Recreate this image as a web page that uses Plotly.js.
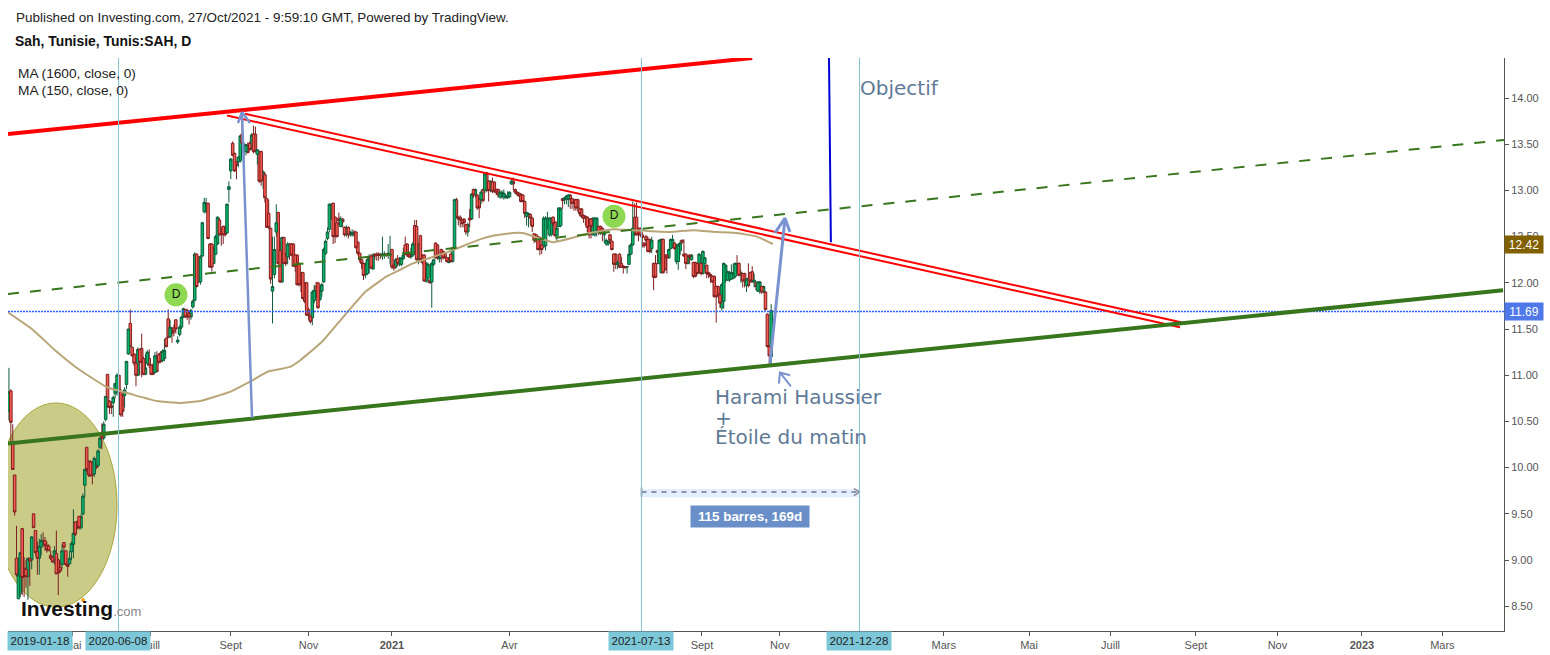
<!DOCTYPE html>
<html><head><meta charset="utf-8">
<script src="https://cdn.plot.ly/plotly-3.0.1.min.js"></script>
<style>html,body{margin:0;padding:0;background:#fff}#c{width:1550px;height:655px}</style>
</head><body><div id="c"></div>
<script>
// Daily candles: [open, high, low, close]
const candles2019to2020 = [
[10.61,11.08,10.51,10.82],[10.83,10.85,10.26,10.49],[10.26,10.47,9.98,9.98],[9.92,9.92,9.48,9.52],[9.02,9.37,8.82,8.84],[8.58,9.03,8.58,8.84],[8.64,9.08,8.6,9.08],[9.34,9.34,8.62,8.81],[8.91,9.03,8.6,8.82],[8.9,9.0,8.7,8.82],
[8.82,9.02,8.57,9.02],[9.02,9.02,8.72,8.99],[9.0,9.26,8.9,9.25],[9.5,9.5,9.35,9.35],[9.32,9.32,9.05,9.08],[9.09,9.2,8.84,9.02],[9.02,9.23,8.84,9.15],[9.14,9.28,9.05,9.21],[9.21,9.3,9.14,9.17],[9.21,9.25,9.1,9.16],
[9.16,9.2,9.08,9.11],[9.15,9.17,9.1,9.1],[9.05,9.1,9.0,9.02],[9.03,9.04,8.97,8.98],[8.98,9.15,8.95,9.1],[9.07,9.32,8.85,8.85],[9.0,9.02,8.62,8.86],[8.92,8.98,8.86,8.88],[8.95,9.17,8.9,9.1],[9.19,9.19,9.1,9.14],
[9.1,9.1,8.94,8.95],[8.95,8.96,8.82,8.93],[8.96,9.1,8.95,9.02],[9.09,9.2,9.0,9.18],[9.17,9.55,9.02,9.29],[9.41,9.42,9.26,9.28],[9.41,9.43,9.33,9.35],[9.47,9.48,9.33,9.35],[9.35,9.5,9.33,9.47],[9.5,9.72,9.48,9.69],
[9.81,9.98,9.68,9.98],[10.22,10.22,9.95,9.98],[10.07,10.08,9.9,9.92],[10.06,10.08,9.9,9.91],[10.06,10.07,9.82,9.92],[9.93,10.12,9.9,10.1],[10.03,10.05,9.98,10.0],[10.02,10.2,10.0,10.18],[10.22,10.33,10.2,10.32],[10.36,10.48,10.2,10.32],
[10.32,10.5,10.3,10.47],[10.52,10.77,10.5,10.77],[11.01,11.01,10.65,10.66],[10.72,10.73,10.58,10.65],[10.67,10.72,10.58,10.65],[10.7,10.78,10.55,10.76],[10.8,10.92,10.75,10.91],[10.82,11.02,10.78,11.0],[11.0,11.0,10.78,10.82],[10.82,10.85,10.55,10.57],
[10.78,10.8,10.55,10.61],[10.78,10.87,10.65,10.84],[10.9,11.15,10.85,11.15],[11.23,11.5,11.22,11.5],[11.56,11.71,11.31,11.31],[11.3,11.31,11.2,11.21],[11.23,11.24,11.1,11.13],[11.13,11.14,10.88,11.0],[11.0,11.3,10.99,11.28],[11.28,11.29,11.0,11.14],
[11.29,11.45,10.98,11.14],[11.18,11.2,11.0,11.01],[11.01,11.23,11.0,11.08],[11.13,11.27,11.1,11.25],[11.18,11.28,11.08,11.11],[11.11,11.12,11.0,11.01],[11.11,11.13,11.0,11.01],[11.03,11.25,11.02,11.21],[11.21,11.26,11.03,11.04],[11.22,11.24,11.12,11.14],
[11.24,11.26,11.13,11.15],[11.16,11.28,11.14,11.26],[11.18,11.39,11.15,11.27],[11.4,11.41,11.3,11.31],[11.61,11.71,11.4,11.41],[11.42,11.6,11.4,11.52],[11.51,11.52,11.35,11.45],[11.51,11.55,11.42,11.47],[11.6,11.6,11.45,11.5],[11.36,11.42,11.34,11.38],
[11.44,11.54,11.42,11.52],[11.52,11.64,11.5,11.63],[11.63,11.73,11.62,11.72],[11.71,11.72,11.62,11.63],[11.7,11.72,11.6,11.63],[11.67,11.7,11.55,11.63],[11.63,11.72,11.6,11.7],[11.74,11.82,11.72,11.8],[11.81,12.33,11.8,12.31],[12.31,12.32,11.95,11.96]
];
const candles2020 = [
[12.28,12.29,12.0,12.01],[12.01,12.3,11.98,12.28],[12.29,12.66,12.28,12.65],[12.77,12.92,12.75,12.87],[12.77,12.92,12.75,12.86],[12.86,12.87,12.47,12.48],[12.42,12.43,12.16,12.17],[12.42,12.43,12.12,12.17],[12.21,12.4,12.2,12.37],[12.31,12.52,12.3,12.5],
[12.42,12.72,12.41,12.71],[12.68,12.7,12.51,12.52],[12.56,12.6,12.4,12.52],[12.61,12.62,12.42,12.52],[12.6,12.62,12.5,12.52],[12.54,12.86,12.53,12.85],[13.01,13.1,12.87,13.04],[13.21,13.35,13.12,13.34],[13.51,13.53,13.37,13.38],[13.4,13.41,13.2,13.21],
[13.31,13.32,13.12,13.27],[13.31,13.37,13.25,13.36],[13.32,13.6,13.3,13.59],[13.61,13.84,13.5,13.51],[13.44,13.52,13.3,13.5],[13.42,13.5,13.38,13.49],[13.5,13.52,13.4,13.41],[13.51,13.53,13.43,13.44],[13.46,13.62,13.44,13.6],[13.61,13.7,13.4,13.42],
[13.61,13.69,13.41,13.42],[13.39,13.44,13.28,13.44],[13.42,13.43,13.08,13.1],[13.42,13.43,13.05,13.1],[13.12,13.22,13.02,13.2],[13.17,13.2,12.87,12.92],[12.91,12.92,12.6,12.6],[12.75,12.9,12.58,12.6],[12.59,12.6,11.99,12.04],[11.91,12.5,11.56,11.96],
[12.09,12.5,12.05,12.36],[12.55,12.85,12.5,12.65],[12.76,12.77,12.2,12.21],[12.35,12.45,12.0,12.01],[12.01,12.5,12.0,12.49],[12.49,12.5,12.2,12.21],[12.31,12.33,12.18,12.21],[12.28,12.44,12.2,12.42],[12.42,12.43,12.25,12.3],[12.42,12.43,12.29,12.3],
[12.42,12.43,12.17,12.18],[12.3,12.31,12.12,12.18],[12.3,12.31,11.97,11.98],[12.21,12.22,11.96,11.98],[12.11,12.12,11.9,11.98],[12.11,12.12,11.82,11.83],[12.0,12.01,11.78,11.8],[12.0,12.01,11.64,11.65],[11.71,11.73,11.6,11.65],[11.64,11.65,11.56,11.58],
[11.62,11.92,11.54,11.9],[11.81,11.98,11.78,11.92],[11.96,12.01,11.84,11.85],[12.0,12.01,11.72,11.73],[11.82,11.96,11.8,11.92],[11.91,12.0,11.85,11.98],[12.01,12.38,12.0,12.36],[12.32,12.47,12.3,12.45],[12.48,12.6,12.46,12.55],[12.58,12.86,12.55,12.85],
[12.7,12.86,12.68,12.85],[12.86,12.87,12.42,12.5],[12.71,12.72,12.43,12.5],[12.65,12.66,12.49,12.5],[12.7,12.76,12.62,12.67],[12.61,12.72,12.6,12.69],[12.69,12.7,12.6,12.66],[12.6,12.61,12.5,12.52],[12.52,12.62,12.5,12.6],[12.6,12.61,12.48,12.52],
[12.52,12.56,12.5,12.55],[12.52,12.58,12.5,12.54],[12.55,12.57,12.5,12.52],[12.55,12.56,12.37,12.38],[12.44,12.45,12.3,12.32],[12.32,12.33,12.22,12.25],[12.25,12.26,12.15,12.21],[12.21,12.22,12.03,12.08],[12.09,12.22,12.05,12.21],[12.1,12.27,12.08,12.25],
[12.16,12.31,12.1,12.28],[12.29,12.31,12.15,12.16],[12.15,12.32,12.14,12.3],[12.31,12.32,12.25,12.29],[12.31,12.33,12.24,12.3],[12.31,12.33,12.24,12.3],[12.31,12.32,12.26,12.3],[12.3,12.5,12.25,12.31],[12.3,12.34,12.26,12.31],[12.31,12.32,12.28,12.3]
];
const candles2021H1 = [
[12.3,12.42,12.26,12.32],[12.3,12.51,12.2,12.31],[12.36,12.37,12.15,12.17],[12.19,12.2,12.13,12.16],[12.17,12.27,12.15,12.25],[12.26,12.3,12.18,12.21],[12.2,12.28,12.18,12.26],[12.2,12.28,12.18,12.27],[12.26,12.38,12.25,12.3],[12.41,12.5,12.3,12.31],
[12.42,12.43,12.28,12.3],[12.31,12.33,12.27,12.28],[12.28,12.38,12.26,12.31],[12.3,12.44,12.28,12.42],[12.62,12.68,12.3,12.32],[12.61,12.68,12.24,12.25],[12.25,12.43,12.2,12.42],[12.51,12.52,12.22,12.25],[12.3,12.31,12.2,12.22],[12.3,12.31,12.01,12.02],
[12.02,12.23,12.0,12.21],[12.05,12.22,12.0,12.2],[12.03,12.04,11.99,12.0],[12.01,12.23,11.73,12.21],[12.2,12.26,12.18,12.25],[12.43,12.44,12.26,12.27],[12.41,12.42,12.25,12.27],[12.26,12.3,12.22,12.28],[12.36,12.37,12.22,12.3],[12.34,12.35,12.25,12.27],
[12.32,12.33,12.26,12.27],[12.27,12.28,12.22,12.23],[12.22,12.28,12.21,12.27],[12.31,12.32,12.22,12.23],[12.23,12.39,12.22,12.38],[12.38,12.91,12.37,12.9],[12.9,12.92,12.7,12.71],[12.71,12.72,12.62,12.69],[12.71,12.73,12.6,12.68],[12.68,12.69,12.6,12.64],
[12.69,12.7,12.6,12.65],[12.63,12.64,12.52,12.55],[12.55,12.65,12.5,12.63],[12.7,12.8,12.6,12.68],[12.69,12.97,12.68,12.96],[13.01,13.02,12.92,12.95],[12.95,13.02,12.92,13.01],[12.95,12.96,12.79,12.81],[12.91,12.92,12.7,12.81],[12.9,13.0,12.85,12.98],
[13.01,13.02,12.87,12.89],[13.0,13.2,12.97,13.18],[13.19,13.2,12.98,13.0],[13.1,13.11,12.88,13.0],[13.0,13.11,12.98,13.1],[13.09,13.14,12.97,12.99],[13.09,13.1,12.97,12.99],[13.01,13.02,12.95,12.98],[13.01,13.02,12.92,12.95],[12.93,13.0,12.91,12.98],
[12.93,13.0,12.91,12.98],[12.93,13.01,12.9,12.97],[12.92,12.96,12.91,12.94],[12.92,12.99,12.91,12.94],[12.93,12.99,12.92,12.98],[13.07,13.13,13.06,13.1],[13.1,13.14,13.0,13.07],[13.01,13.02,12.96,12.98],[12.98,12.99,12.94,12.96],[12.97,12.98,12.93,12.94],
[12.96,12.97,12.87,12.88],[12.95,12.96,12.87,12.88],[12.88,12.89,12.7,12.75],[12.72,12.77,12.62,12.76],[12.72,12.76,12.6,12.75],[12.74,12.75,12.62,12.7],[12.7,12.71,12.55,12.61],[12.53,12.54,12.43,12.46],[12.52,12.53,12.44,12.45],[12.5,12.51,12.35,12.36],
[12.49,12.5,12.3,12.36],[12.41,12.42,12.31,12.36],[12.39,12.72,12.38,12.7],[12.4,12.72,12.35,12.7],[12.61,12.77,12.58,12.7],[12.52,12.71,12.5,12.7],[12.52,12.71,12.5,12.7],[12.71,12.72,12.62,12.64],[12.66,12.67,12.5,12.51],[12.51,12.62,12.45,12.59],
[12.61,12.82,12.6,12.81],[12.62,12.82,12.6,12.8],[12.91,12.92,12.8,12.89],[12.9,12.93,12.85,12.92],[12.9,12.95,12.85,12.94],[12.91,12.96,12.82,12.95],[12.95,12.96,12.8,12.9],[12.91,12.92,12.8,12.86],[12.9,12.91,12.78,12.86],[12.9,12.91,12.78,12.81],
[12.9,12.91,12.77,12.81]
];
const candles2021H2 = [
[12.8,12.81,12.72,12.75],[12.8,12.81,12.7,12.72],[12.73,12.74,12.65,12.7],[12.72,12.73,12.62,12.7],[12.71,12.72,12.55,12.6],[12.69,12.7,12.48,12.52],[12.69,12.7,12.48,12.61],[12.52,12.71,12.51,12.7],[12.52,12.71,12.5,12.7],[12.55,12.71,12.5,12.7],
[12.61,12.62,12.52,12.55],[12.61,12.62,12.52,12.55],[12.59,12.6,12.45,12.55],[12.52,12.56,12.43,12.55],[12.42,12.48,12.4,12.46],[12.42,12.46,12.4,12.45],[12.52,12.53,12.42,12.46],[12.45,12.46,12.35,12.36],[12.31,12.32,12.12,12.2],[12.31,12.32,12.15,12.2],
[12.2,12.24,12.15,12.22],[12.31,12.32,12.16,12.17],[12.21,12.28,12.16,12.17],[12.18,12.19,12.1,12.17],[12.17,12.18,12.15,12.17],[12.17,12.18,12.1,12.175],[12.2,12.41,12.19,12.31],[12.31,12.43,12.3,12.41],[12.41,12.88,12.4,12.59],[12.71,12.86,12.51,12.52],
[12.71,12.87,12.51,12.52],[12.59,12.6,12.45,12.52],[12.59,12.6,12.5,12.52],[12.52,12.55,12.38,12.49],[12.43,12.44,12.38,12.4],[12.5,12.52,12.4,12.46],[12.47,12.5,12.33,12.34],[12.47,12.48,12.32,12.34],[12.37,12.5,12.32,12.46],[12.21,12.22,11.92,12.06],
[12.21,12.3,12.05,12.06],[12.35,12.36,12.2,12.33],[12.21,12.47,12.2,12.46],[12.11,12.48,12.1,12.47],[12.47,12.48,12.1,12.11],[12.3,12.31,12.13,12.14],[12.3,12.31,12.1,12.27],[12.27,12.37,12.26,12.36],[12.37,12.48,12.36,12.47],[12.39,12.52,12.38,12.47],
[12.43,12.44,12.36,12.37],[12.23,12.42,12.2,12.41],[12.23,12.43,12.14,12.41],[12.35,12.46,12.3,12.43],[12.46,12.47,12.42,12.44],[12.31,12.47,12.28,12.29],[12.31,12.32,12.15,12.21],[12.21,12.3,12.2,12.29],[12.3,12.31,12.2,12.28],[12.25,12.31,12.24,12.3],
[12.22,12.23,12.05,12.07],[12.22,12.23,12.06,12.07],[12.21,12.22,12.09,12.1],[12.12,12.32,12.1,12.31],[12.21,12.22,12.08,12.1],[12.1,12.35,12.09,12.34],[12.21,12.28,12.15,12.27],[12.19,12.2,12.05,12.1],[12.11,12.12,12.05,12.09],[12.09,12.1,12.0,12.07],
[12.07,12.08,12.0,12.01],[12.07,12.08,11.84,11.85],[11.96,11.97,11.57,11.85],[11.96,11.97,11.84,11.87],[11.87,11.88,11.73,11.78],[11.73,12.0,11.7,11.98],[11.8,12.22,11.72,12.21],[12.03,12.2,12.0,12.19],[12.03,12.13,12.02,12.12],[12.03,12.13,12.01,12.11],
[12.04,12.2,12.03,12.11],[12.05,12.21,12.04,12.11],[12.07,12.22,12.05,12.21],[12.21,12.3,12.1,12.19],[12.21,12.22,12.07,12.08],[12.09,12.14,12.0,12.11],[12.1,12.11,11.95,12.02],[12.1,12.11,11.95,12.02],[11.97,12.05,11.9,12.04],[12.05,12.21,11.95,11.97],
[12.11,12.12,12.0,12.02],[12.12,12.18,12.0,12.01],[12.01,12.1,11.95,12.03],[12.0,12.01,11.92,11.96],[11.91,12.02,11.9,12.01],[11.91,12.02,11.88,12.01],[11.96,11.97,11.88,11.9],[11.9,11.97,11.89,11.96],[11.9,11.91,11.7,11.71],[11.66,11.67,11.3,11.31],
[11.31,11.32,11.1,11.21],[11.2,11.77,11.1,11.7]
];
// MA (150): bar number and value
const maBars   = [-0.5,12.7,24.3,36.4,51.7,65.4,78.1,90.2,100.7,116.6,127.1,136.6,148.2,153.5,158.8,165,187.8,199.2,206.2,213,231,248.4,255.3,265.8,271,280,286.9,295.9,306.4,318.6,329,348.6,360.8,373.4,384,394.5,402.9];
const maValues = [11.68,11.49,11.27,11.07,10.87,10.79,10.72,10.70,10.72,10.82,10.93,11.04,11.09,11.16,11.25,11.36,11.90,12.07,12.14,12.21,12.33,12.47,12.51,12.54,12.54,12.48,12.44,12.48,12.54,12.58,12.57,12.55,12.57,12.55,12.54,12.50,12.42];
// Drawn trend lines: [bar, price] end points
const thickRedBars = [-0.5,392],  thickRedPrices = [13.61,14.433];
const redUpperBars = [124.5,618.7], redUpperPrices = [13.83,11.57];
const redLowerBars = [115,617.6],   redLowerPrices = [13.81,11.52];
const thickGreenBars = [-0.5,788],  thickGreenPrices = [10.26,11.92];
const dashGreenBars = [-0.5,788.5], dashGreenPrices = [11.88,13.545];
const objectiveBars = [432.5,433.5], objectivePrices = [14.433,12.44];
const arrow1Bars = [128.2,122.9,120.8,122.9,127.1], arrow1Prices = [10.54,13.85,13.73,13.85,13.73];
const arrow2Bars = [401.4,409.3,404,409.3,411.9],   arrow2Prices = [11.13,12.70,12.54,12.70,12.55];
const arrow3Bars = [412.4,406.6,406.1,406.6,412],   arrow3Prices = [10.88,11.03,10.91,11.03,11.0];
const markerBars = [88.1,319.1], markerPrices = [11.87,12.72];
const rangeBars = [333.6,448.6], rangePrice = 9.735;
const lastClose = 11.69, lastMA = 12.42;
const crossBars = [57.78,333.6,448.6];
const crossLabels = ['2019-01-18','2020-06-08','2021-07-13','2021-12-28'];
// Axes
const monthBars   = [33.6,74.7,117,158,202,264,365.5,406.6,493,538,581,626,669,713.6,756];
const monthLabels = ['Mai','Juill','Sept','Nov','<b>2021</b>','Avr','Sept','Nov','Mars','Mai','Juill','Sept','Nov','<b>2023</b>','Mars'];
const priceTicks  = [8.5,9,9.5,10,10.5,11,11.5,12,12.5,13,13.5,14];

const rows = [].concat(candles2019to2020,candles2020,candles2021H1,candles2021H2);
const bars = rows.map((r,i)=>i);
const PLOT={l:8,r:1504,t:58,b:631};
const px=x=>(x-PLOT.l)/(PLOT.r-PLOT.l), py=y=>(PLOT.b-y)/(PLOT.b-PLOT.t);

// even and odd bars sit on two overlaid x axes so the candle body can be as wide as in the picture
const candleTrace=(rem,xaxis)=>{const idx=bars.filter(i=>i%2===rem);return {type:'candlestick',xaxis,x:idx,open:idx.map(i=>rows[i][0]),high:idx.map(i=>rows[i][1]),low:idx.map(i=>rows[i][2]),close:idx.map(i=>rows[i][3]),
  whiskerwidth:0,
  increasing:{line:{color:'#0f5c3c',width:1},fillcolor:'#05b868'},
  decreasing:{line:{color:'#7d1f1f',width:1},fillcolor:'#fb5a50'}};};
const line=(x,y,color,width,dash,extra)=>({type:'scatter',xaxis:'x3',mode:'lines',x,y,hoverinfo:'skip',line:Object.assign({color,width,dash:dash||'solid'},extra||{})});
const data=[
 candleTrace(0,'x'),candleTrace(1,'x2'),
 line(maBars,maValues,'#b8a678',2,null,{shape:'spline',smoothing:0.3}),
 line([-0.5,788.5],[lastClose,lastClose],'#2962ff',1.4,'2px,1px'),
 line(dashGreenBars,dashGreenPrices,'#38761d',2,'11px 11px'),
 line(thickRedBars,thickRedPrices,'#ff0000',4),
 line(redUpperBars,redUpperPrices,'#ff0000',2),
 line(redLowerBars,redLowerPrices,'#ff0000',2),
 line(thickGreenBars,thickGreenPrices,'#38761d',4),
 line(objectiveBars,objectivePrices,'#0000d8',2),
 line(arrow1Bars,arrow1Prices,'#7a93d0',2.5),
 line(arrow2Bars,arrow2Prices,'#7a93d0',3),
 line(arrow3Bars,arrow3Prices,'#7a93d0',2),
 line(rangeBars,[rangePrice,rangePrice],'#8a94a6',2,'5px 5px'),
 line([rangeBars[0],rangeBars[0]],[rangePrice+0.05,rangePrice-0.05],'#666',1.5),
 line([rangeBars[1]-3,rangeBars[1],rangeBars[1]-3],[rangePrice+0.04,rangePrice,rangePrice-0.04],'#777',1.2),
 {type:'scatter',xaxis:'x3',mode:'markers+text',x:markerBars,y:markerPrices,text:['D','D'],textposition:'middle center',hoverinfo:'skip',
  textfont:{family:'Liberation Sans',size:12,color:'#111'},marker:{size:23,color:'#8fd952'}}
];
const vline=x=>({type:'line',xref:'x',yref:'paper',x0:x,x1:x,y0:0,y1:1,line:{color:'#86c6d6',width:1}});
const shapes=[
 {type:'circle',layer:'below',xref:'x',yref:'y',x0:-7.4,x1:57,y0:8.49,y1:10.70,fillcolor:'#cbcb88',line:{color:'#a8a83c',width:1}},
 {type:'rect',layer:'below',xref:'x',yref:'y',x0:rangeBars[0],x1:rangeBars[1],y0:9.68,y1:9.77,fillcolor:'#e3eeff',line:{width:0}},
 {type:'circle',xref:'paper',yref:'paper',x0:px(81),x1:px(85),y0:py(602),y1:py(598),fillcolor:'#f5a623',line:{width:0}},
 ...crossBars.map(vline)
];
const txt=(text,x,y,size,color,extra)=>Object.assign({text,xref:'paper',yref:'paper',x:px(x),y:py(y),xanchor:'left',yanchor:'middle',showarrow:false,
  font:{family:'Liberation Sans',size,color}},extra||{});
const slate='#5f7a96', dj={family:'DejaVu Sans',size:20,color:slate};
const annotations=[
 txt('Published on Investing.com, 27/Oct/2021 - 9:59:10 GMT, Powered by TradingView.',14,17,13.45,'#222'),
 txt('<b>Sah, Tunisie, Tunis:SAH, D</b>',13,41,13.9,'#111'),
 txt('MA (1600, close, 0)',16,74,13.7,'#222'),
 txt('MA (150, close, 0)',16,90.5,13.7,'#222'),
 txt('Objectif',858,88,20,slate,{font:dj}),
 txt('Harami Haussier',713,397,20,slate,{font:dj}),
 txt('+',713,418,20,slate,{font:dj}),
 txt('Étoile du matin',713,437,20,slate,{font:dj}),
 txt('<b>115 barres, 169d</b>',750,516,13.4,'#fff',{xanchor:'center',bgcolor:'#6a8fc8',width:116,height:19}),
 txt('<b>Investing</b><span style="color:#888;font-size:13px">.com</span>',19,608,21,'#111'),
 txt('12.42',1504,244,12,'#fff',{bgcolor:'#806000',width:36,height:15}),
 txt('11.69',1504,311,12,'#fff',{bgcolor:'#4f78e8',width:36,height:15}),
 ...[[40,0],[118,1],[641,2],[859,3]].map(([x,i])=>txt(crossLabels[i],x,641,11.5,'#222',{xanchor:'center',bgcolor:'#7cc8d8',width:62,height:16}))
];
const XR=[-0.5,788.5];
const hiddenX=()=>({type:'linear',range:XR,overlaying:'x',visible:false,rangeslider:{visible:false},showgrid:false,zeroline:false,anchor:'y'});
const layout={width:1550,height:655,margin:{l:PLOT.l,r:1550-PLOT.r,t:PLOT.t,b:655-PLOT.b,pad:0},showlegend:false,
 paper_bgcolor:'#fff',plot_bgcolor:'#fff',boxmode:'overlay',boxgap:0.33,boxgroupgap:0,
 font:{family:'Liberation Sans',color:'#555',size:11},
 xaxis:{type:'linear',range:XR,rangeslider:{visible:false},tickmode:'array',tickvals:monthBars,ticktext:monthLabels,ticks:'outside',ticklen:4,tickcolor:'#555',showgrid:false,zeroline:false,showline:true,linecolor:'#555',linewidth:1,tickfont:{size:11,color:'#555'}},
 xaxis2:hiddenX(),xaxis3:hiddenX(),
 yaxis:{side:'right',range:[8.232,14.433],tickmode:'array',tickvals:priceTicks,ticktext:priceTicks.map(v=>v.toFixed(2)),ticks:'outside',ticklen:4,tickcolor:'#555',showgrid:false,zeroline:false,showline:true,linecolor:'#555',linewidth:1,tickfont:{size:11,color:'#555'}},
 shapes,annotations};
Plotly.newPlot('c',data,layout,{displayModeBar:false,staticPlot:true});
</script></body></html>
